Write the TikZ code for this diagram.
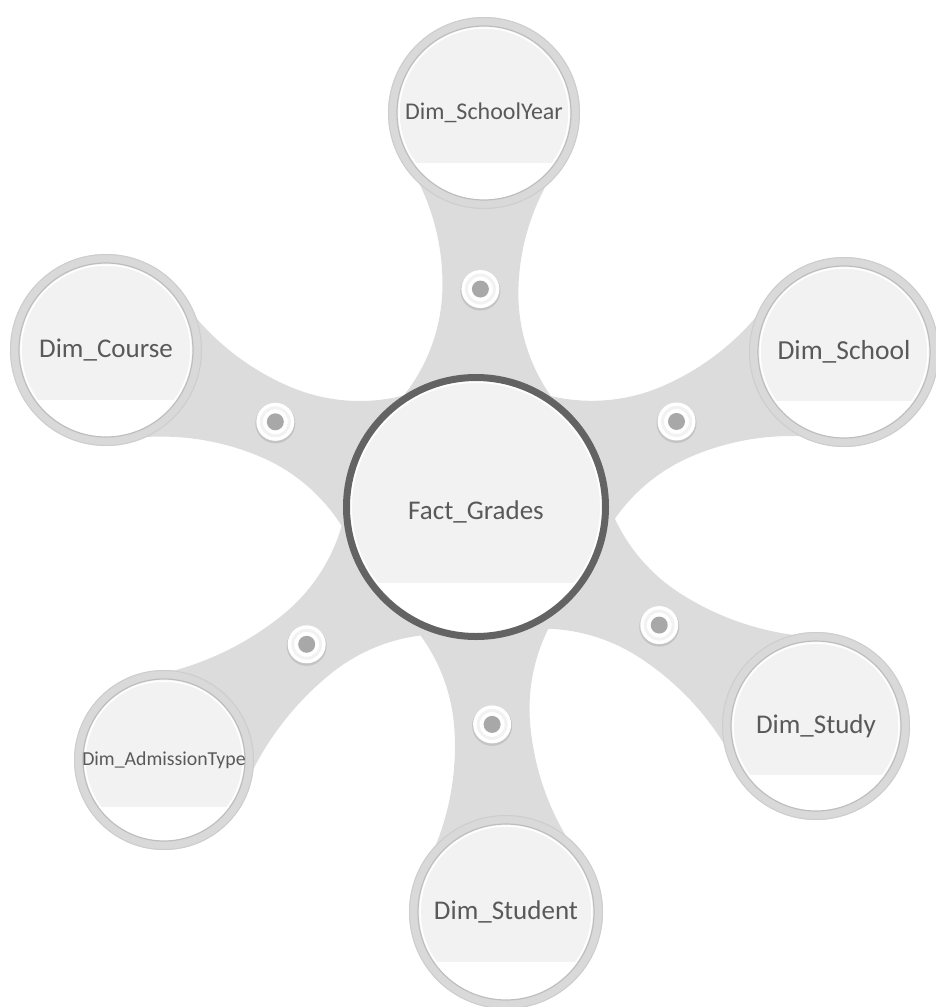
\documentclass[tikz,border=0pt]{standalone}
\usepackage{fontspec}
\setmainfont{Carlito}
\usetikzlibrary{calc}
\definecolor{conngray}{HTML}{DCDCDC}
\definecolor{ringgray}{HTML}{D9D9D9}
\definecolor{ringedge}{HTML}{CDCDCD}
\definecolor{edgegray}{HTML}{BEBEBE}
\definecolor{innerfill}{HTML}{F2F2F2}
\definecolor{hubring}{HTML}{636363}
\definecolor{txtgray}{HTML}{595959}
\definecolor{dotgray}{HTML}{A8A8A8}
\definecolor{dotshadow}{HTML}{C4C4C4}
\tikzset{
  lbl/.style={text=txtgray, inner sep=0pt, anchor=center},
  connfill/.style={fill=conngray},
}
% connector band: #1 dot name, #2 image angle, #3 distance to satellite, #4 satellite radius
\newcommand\spoke[4]{%
  \pgfmathsetmacro\wm{218}%
  \pgfmathsetmacro\ww{38}%
  \pgfmathsetmacro\Rh{178}%
  \pgfmathsetmacro\kk{#4-5}%
  \pgfmathsetmacro\Rs{(((#3-\wm)/10)^2+(\ww/10)^2-(\kk/10)^2)/(2*(\kk-\ww))*100}%
  \pgfmathsetmacro\gs{atan((#3-\wm)/(\ww+\Rs))+4}%
  \begin{scope}[shift={(hc)}, rotate={-#2}, x=1pt, y=1pt]
    \path[connfill] (0,0) -- ($(\wm,\ww+\Rh)+(-130:\Rh)$)
      arc[start angle=-130, end angle=-90, radius=\Rh]
      arc[start angle=-90, end angle={-90+\gs}, radius=\Rs]
      -- (#3,0)
      -- ($(\wm,-\ww-\Rs)+({90-\gs}:\Rs)$)
      arc[start angle={90-\gs}, end angle=90, radius=\Rs]
      arc[start angle=90, end angle=130, radius=\Rh] -- cycle;
    \coordinate (#1) at (\wm,0);
  \end{scope}
}
% satellite: #1 name, #2 centre coordinate, #3 radius, #4 font size, #5 text
\newcommand\satellite[5]{%
  \fill[ringgray] (#2) circle ({#3});
  \draw[ringedge, line width=1pt] (#2) circle ({#3-0.5});
  \begin{scope}
    \clip (#2) circle ({#3-9});
    \fill[innerfill] ($(#2)+(-#3,-#3)$) rectangle ($(#2)+(#3,0.52*#3)$);
    \fill[white] ($(#2)+(-#3,0.52*#3)$) rectangle ($(#2)+(#3,#3)$);
  \end{scope}
  \draw[edgegray, line width=1.2pt] (#2) circle ({#3-9});
  \draw[white, line width=1.5pt] (#2) circle ({#3-11});
  \node[lbl, font=\fontsize{#4}{#4}\selectfont] (#1) at (#2) {#5};
}
% dot on a connector: #1 name, #2 position
\newcommand\hubdot[2]{%
  \fill[dotshadow] ($(#2)+(0,1.5)$) circle (20);
  \fill[white] (#2) circle (19);
  \draw[innerfill, line width=3pt] (#2) circle (14);
  \node[circle, fill=dotgray, minimum size=17pt, inner sep=0pt] (#1) at (#2) {};
}
\begin{document}
\begin{tikzpicture}[x=1pt,y=-1pt]
\useasboundingbox (0,0) rectangle (936,1007);
% centres
\coordinate (hc) at (476,507);
\coordinate (c1) at (484,113);
\coordinate (c2) at (844,352);
\coordinate (c3) at (106,350);
\coordinate (c4) at (816,726);
\coordinate (c5) at (164,760);
\coordinate (c6) at (506,912);
% connectors (hub to satellites)
\spoke{p1}{-88.84}{394.1}{96}
\spoke{p2}{-23.1}{400.1}{95}
\spoke{p3}{203.0}{401.9}{96}
\spoke{p4}{32.8}{404.4}{94}
\spoke{p5}{140.96}{401.7}{90}
\spoke{p6}{85.76}{406.1}{97}
% dots
\hubdot{d1}{p1}
\hubdot{d2}{p2}
\hubdot{d3}{p3}
\hubdot{d4}{p4}
\hubdot{d5}{p5}
\hubdot{d6}{p6}
% hub
\begin{scope}
  \clip (hc) circle (127);
  \fill[innerfill] ($(hc)+(-133,-133)$) rectangle ($(hc)+(133,76)$);
  \fill[white] ($(hc)+(-133,76)$) rectangle ($(hc)+(133,133)$);
\end{scope}
\draw[white, line width=2pt] (hc) circle (125);
\draw[hubring, line width=7pt] (hc) circle (129.5);
\node[lbl, font=\fontsize{27}{27}\selectfont] (hub) at ($(hc)+(0,5)$) {Fact\_Grades};
% satellites
\satellite{s1}{c1}{96}{24}{Dim\_SchoolYear}
\satellite{s2}{c2}{95}{27.5}{Dim\_School}
\satellite{s3}{c3}{96}{27}{Dim\_Course}
\satellite{s4}{c4}{94}{27}{Dim\_Study}
\satellite{s5}{c5}{90}{19.8}{Dim\_AdmissionType}
\satellite{s6}{c6}{97}{27}{Dim\_Student}
\end{tikzpicture}
\end{document}
